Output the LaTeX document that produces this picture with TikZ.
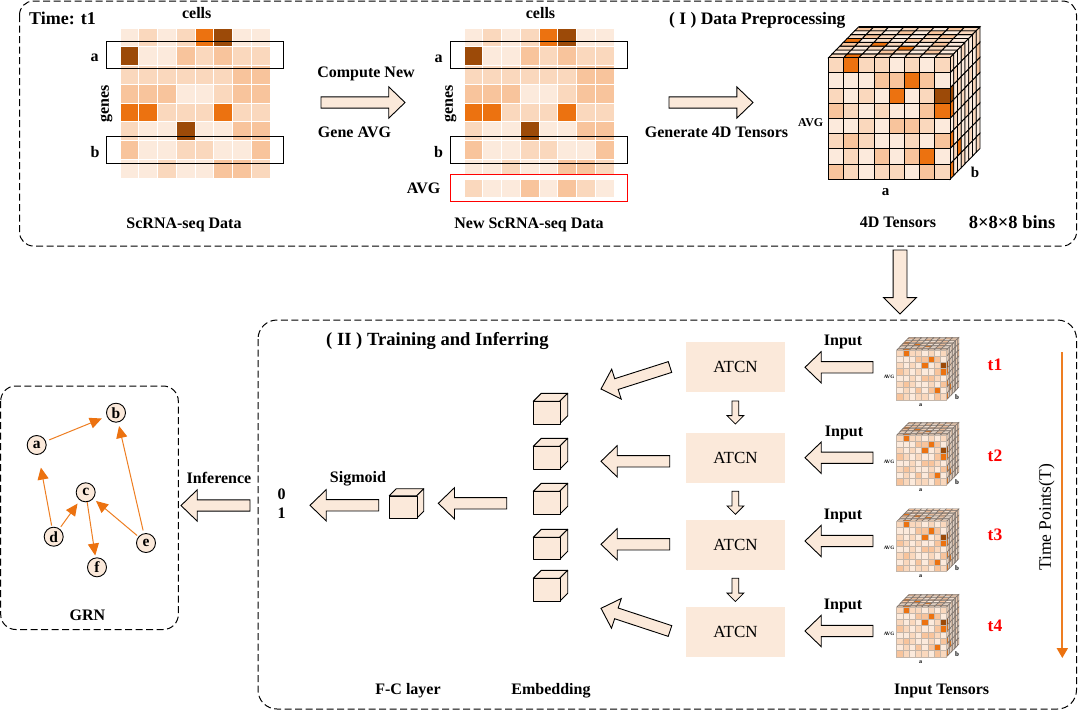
\documentclass[tikz,border=0pt]{standalone}
\usepackage{fontspec}
\setmainfont{Liberation Serif}
\usetikzlibrary{shapes.arrows,arrows.meta}
\definecolor{peach}{HTML}{FBE9DA}
\definecolor{hma}{HTML}{FCEADC}
\definecolor{hmb}{HTML}{FAD8BD}
\definecolor{hmc}{HTML}{F8C49C}
\definecolor{hmd}{HTML}{EC7210}
\definecolor{hme}{HTML}{9C4A08}
\definecolor{edgeorange}{HTML}{EE7E22}
\tikzset{
  lab/.style={inner sep=0pt,text height=10.5pt,text depth=0pt,font=\fontsize{16}{16}\selectfont\bfseries},
  labbig/.style={inner sep=0pt,text height=11.5pt,text depth=1.5pt,font=\fontsize{17.5}{17.5}\selectfont\bfseries},
  labreg/.style={inner sep=0pt,font=\fontsize{17.5}{17.5}\selectfont},
  labred/.style={inner sep=0pt,text=red,font=\fontsize{17.5}{17.5}\selectfont\bfseries},
  region/.style={draw=black,line width=1pt,dash pattern=on 7pt off 3.5pt},
  selbox/.style={draw=black,line width=1pt},
  atcn/.style={fill=peach,inner sep=0pt,minimum width=99.5pt,minimum height=50.6pt,font=\fontsize{17}{17}\selectfont},
  barrow/.style={draw=black,fill=peach,line width=0.9pt,shape=single arrow,inner sep=0pt,outer sep=0pt,
    single arrow head indent=0pt},
  bigarrow/.style={barrow,inner ysep=5.2pt,minimum width=31pt,single arrow head extend=10pt,single arrow tip angle=88},
  bigdown/.style={barrow,inner ysep=6.5pt,minimum width=32pt,single arrow head extend=9.5pt,single arrow tip angle=90},
  smalldown/.style={barrow,inner ysep=3pt,line width=0.8pt,minimum width=16pt,single arrow head extend=5pt,single arrow tip angle=90},
  grn/.style={circle,draw=black,line width=0.9pt,fill=peach,minimum size=19pt,inner sep=0pt,font=\fontsize{15.5}{15.5}\selectfont\bfseries},
  grnedge/.style={draw=edgeorange,line width=1pt,-{Triangle[length=12pt,width=11pt,color=hmd]}},
  emb/.style={draw=black,fill=peach,line width=0.9pt,line join=round},
  bigfront/.style={draw=black,line width=0.9pt},
  smallfront/.style={draw=black!22!peach,line width=0.5pt},
  smallside/.style={draw=black!50!peach,line width=0.55pt},
}
\newcommand\blockarrow[6]{%
  \pgfmathsetmacro\barlen{veclen(#4-#2,#5-#3)}%
  \pgfmathsetmacro\barang{atan2(#3-#5,#4-#2)}%
  \node[#6,minimum height=\barlen pt,rotate=\barang,anchor=tip] (#1) at (#4,#5) {};}
% heat map: x, y of the top-left corner
\newcommand\heatmap[2]{%
  \begin{scope}[shift={(#1,#2)}]
  \foreach \rowlist [count=\r from 0] in {{a,b,a,b,d,e,a,a},{e,a,a,c,b,c,b,b},{b,b,b,b,b,b,c,c},{c,c,c,a,a,b,c,c},{d,d,b,b,b,d,b,b},{b,a,a,e,a,a,c,c},{c,a,a,b,b,a,a,c},{a,a,b,a,a,c,c,b}}
    \foreach \v [count=\c from 0] in \rowlist
      \fill[hm\v,draw=white,line width=0.9pt] (\c*18.75,\r*18.75) rectangle ++(18.75,18.75);
  \end{scope}}
% 4D tensor cube: x, y of front top-left, scale, front line style, top/side line style, extras
\newcommand\tensorcube[6]{%
  \begin{scope}[shift={(#1,#2)},x=#3pt,y=-#3pt]
  \def\cu{15.19}\def\dx{3.75}\def\dy{3.85}
  \foreach \rowlist [count=\r from 0] in {{b,d,b,b,a,b,a,b},{a,a,a,c,b,a,c,a},{b,a,b,a,d,a,b,a},{c,b,d,b,a,a,c,a},{d,a,b,a,c,b,b,a},{b,c,b,a,a,b,c,a},{a,b,a,c,a,c,a,b},{c,b,a,b,b,a,c,b}}
    \foreach \v [count=\c from 0] in \rowlist
      \filldraw[fill=hm\v,#5] (\c*\cu+\r*\dx,-\r*\dy) -- ++(\cu,0) -- ++(\dx,-\dy) -- ++(-\cu,0) -- cycle;
  \foreach \rowlist [count=\r from 0] in {{b,a,a,b,a,a,b,b},{a,b,a,a,a,a,a,c},{e,a,b,a,a,b,a,c},{d,a,a,b,a,a,b,a},{a,b,a,a,b,a,a,b},{d,a,b,a,a,a,b,a},{a,b,d,a,a,b,a,a},{d,a,a,b,a,a,a,b}}
    \foreach \v [count=\c from 0] in \rowlist
      \filldraw[fill=hm\v,#5] (8*\cu+\c*\dx,\r*\cu-\c*\dy) -- ++(\dx,-\dy) -- ++(0,\cu) -- ++(-\dx,\dy) -- cycle;
  \foreach \rowlist [count=\r from 0] in {{b,d,b,b,a,b,a,b},{a,a,a,c,c,d,c,a},{b,a,b,a,d,a,b,e},{c,b,a,b,a,a,c,d},{a,a,b,a,c,c,b,a},{b,c,b,a,a,b,a,c},{a,b,a,c,a,c,d,a},{c,b,a,b,b,a,c,b}}
    \foreach \v [count=\c from 0] in \rowlist
      \filldraw[fill=hm\v,#4] (\c*\cu,\r*\cu) rectangle ++(\cu,\cu);
  #6
  \end{scope}}
\begin{document}
\begin{tikzpicture}[x=1pt,y=-1pt]
\useasboundingbox (0,0) rectangle (1078,710);
\fill[white] (0,0) rectangle (1078,710);

% regions
\draw[region,rounded corners=14pt] (19.5,1) rectangle (1076.5,246);
\draw[region,rounded corners=19pt] (258,320) rectangle (1076.5,709);
\draw[region,rounded corners=15pt] (0.7,386) rectangle (178.3,629.5);

% ---- part I
\node[labbig,anchor=west,font=\fontsize{18}{18}\selectfont\bfseries] (timelab) at (29,19) {Time: t1};
\node[labbig,anchor=west] (titleone) at (669,19) {( I ) Data Preprocessing};

\heatmap{120}{28}
\node[lab] (cellsa) at (196.7,13.5) {cells};
\node[lab] (laba) at (94.5,56.5) {a};
\node[lab] (labb) at (95,152) {b};
\node[lab,rotate=90] (genesa) at (103.5,104) {genes};
\node[selbox,inner sep=0pt,minimum width=177pt,minimum height=26.5pt] (boxa) at (195,55.2) {};
\node[selbox,inner sep=0pt,minimum width=177pt,minimum height=27pt] (boxb) at (195,150) {};
\node[lab] (dataa) at (184,223) {ScRNA-seq Data};

\heatmap{464}{28}
\fill[white] (460,174) rectangle (620,200);
\foreach \v [count=\c from 0] in {b,a,a,c,a,c,b,a}
  \fill[hm\v,draw=white,line width=0.9pt] (464+\c*18.75,179) rectangle ++(18.75,18.5);
\node[lab] (cellsb) at (540.5,13.5) {cells};
\node[lab] (labc) at (438.5,57) {a};
\node[lab] (labd) at (438.5,152) {b};
\node[lab] (labavg) at (423.5,188.5) {AVG};
\node[lab,rotate=90] (genesb) at (447.5,104) {genes};
\node[selbox,inner sep=0pt,minimum width=177pt,minimum height=26.5pt] (boxc) at (539,55.2) {};
\node[selbox,inner sep=0pt,minimum width=177pt,minimum height=27pt] (boxd) at (539,150) {};
\node[draw=red,line width=1pt,inner sep=0pt,minimum width=177pt,minimum height=27pt] (boxavg) at (539,188) {};
\node[lab] (datab) at (529,223) {New ScRNA-seq Data};

\blockarrow{arrcompute}{321}{102.5}{405}{102.5}{bigarrow}
\node[lab] (compute) at (366,72) {Compute New};
\node[lab] (gene) at (354.5,132) {Gene AVG};
\blockarrow{arrgen}{669}{102.5}{753}{102.5}{bigarrow}
\node[lab] (generate) at (716.5,132) {Generate 4D Tensors};

\tensorcube{828.5}{57.7}{1}{bigfront}{bigfront}{%
  \draw[line width=1.8pt] (30,-30.8) -- (151.5,-30.8);}
\node[inner sep=0pt,font=\fontsize{12}{12}\selectfont\bfseries] (avgbig) at (810.7,122.7) {AVG};
\node[inner sep=0pt,font=\fontsize{15}{15}\selectfont\bfseries] (cubea) at (885.5,192) {a};
\node[inner sep=0pt,font=\fontsize{15}{15}\selectfont\bfseries] (cubeb) at (975,172) {b};
\node[lab] (tensorlab) at (898,222.7) {4D Tensors};
\node[labbig,font=\fontsize{18.5}{18.5}\selectfont\bfseries] (bins) at (1012,223) {8×8×8 bins};

\blockarrow{arrdown}{900}{250}{900}{314}{bigdown}

% ---- part II
\node[labbig,anchor=west,font=\fontsize{18.6}{18.6}\selectfont\bfseries] (titletwo) at (326,340) {( II ) Training and Inferring};

\foreach \nm/\yy in {a/350,b/435,c/521.5,d/607}{
  \tensorcube{896.7}{\yy}{0.41}{smallfront}{smallside}{}
  \node[inner sep=0pt,font=\fontsize{5}{5}\selectfont\bfseries] (avg\nm) at (889,\yy+26.7) {AVG};
  \node[inner sep=0pt,font=\fontsize{6}{6}\selectfont\bfseries] (ca\nm) at (920.5,\yy+55) {a};
  \node[inner sep=0pt,font=\fontsize{7}{7}\selectfont\bfseries] (cb\nm) at (957,\yy+46.7) {b};
}

\node[labred] (tone) at (995,365) {t1};
\node[labred] (ttwo) at (995,456) {t2};
\node[labred] (tthree) at (995,535) {t3};
\node[labred] (tfour) at (995,626) {t4};

\node[atcn] (atcna) at (735.5,367) {ATCN};
\node[atcn] (atcnb) at (735.5,458) {ATCN};
\node[atcn] (atcnc) at (735.5,544.8) {ATCN};
\node[atcn] (atcnd) at (735.5,632) {ATCN};

\blockarrow{downa}{735.4}{401}{735.4}{424}{smalldown}
\blockarrow{downb}{735.4}{491.3}{735.4}{514.3}{smalldown}
\blockarrow{downc}{735.4}{578.3}{735.4}{601.5}{smalldown}

\blockarrow{ina}{873}{367.3}{805}{367.3}{bigarrow}
\blockarrow{inb}{873}{457.7}{805}{457.7}{bigarrow}
\blockarrow{inc}{873}{541}{805}{541}{bigarrow}
\blockarrow{ind}{873}{631}{805}{631}{bigarrow}
\node[lab] (inputa) at (843,340) {Input};
\node[lab] (inputb) at (844,431) {Input};
\node[lab] (inputc) at (843,514) {Input};
\node[lab] (inputd) at (843,604) {Input};

\blockarrow{outa}{670}{367}{601}{389}{bigarrow}
\blockarrow{outb}{669.7}{461.3}{601}{461.3}{bigarrow}
\blockarrow{outc}{669.7}{544.3}{601}{544.3}{bigarrow}
\blockarrow{outd}{670}{631}{601}{608.3}{bigarrow}

% embedding cubes
\foreach \nm/\yt/\hh in {a/401.3/22.4,b/446.3/23,c/491.3/23,d/537.3/22,e/578.3/23}{
  \draw[emb] (533.3,\yt) -- ++(8,-8) -- ++(26.4,0) -- ++(-8,8) -- cycle;
  \draw[emb] (559.7,\yt) -- ++(8,-8) -- ++(0,\hh) -- ++(-8,8) -- cycle;
  \node[emb,inner sep=0pt,anchor=north west,minimum width=26.4pt,minimum height=\hh pt] (emb\nm) at (533.3,\yt) {};
}
\draw[emb] (389.3,495.7) -- ++(7,-7) -- ++(27.4,0) -- ++(-7,7) -- cycle;
\draw[emb] (416.7,495.7) -- ++(7,-7) -- ++(0,22.6) -- ++(-7,7) -- cycle;
\node[emb,inner sep=0pt,anchor=north west,minimum width=27.4pt,minimum height=22.6pt] (fccube) at (389.3,495.7) {};

\blockarrow{arrfc}{506.7}{503.3}{438.3}{503.3}{bigarrow}
\blockarrow{arrsig}{378.7}{505.3}{310}{505.3}{bigarrow}
\node[lab] (sigmoid) at (358,477.7) {Sigmoid};
\node[lab] (zero) at (281.5,494.5) {0};
\node[lab] (one) at (281.5,513.5) {1};
\blockarrow{arrinf}{250}{505.5}{181}{505.5}{bigarrow}
\node[lab] (inference) at (219,478) {Inference};

\node[lab] (fclab) at (408,689) {F-C layer};
\node[lab] (emblab) at (551,689) {Embedding};
\node[lab] (inlab) at (941.7,689) {Input Tensors};

\coordinate (timestart) at (1062.3,352);
\coordinate (timeend) at (1062.3,658);
\draw[draw=edgeorange,line width=2pt,-{Triangle[length=10pt,width=11pt,color=hmd]}] (timestart) -- (timeend);
\node[labreg,rotate=90] (timelabel) at (1046.7,517.5) {Time Points(T)};

% GRN
\node[grn] (a) at (36.7,445) {a};
\node[grn] (b) at (116,412.7) {b};
\node[grn] (c) at (85.7,492.3) {c};
\node[grn] (d) at (53.7,536.7) {d};
\node[grn] (e) at (146,543) {e};
\node[grn] (f) at (97,567.3) {f};
\draw[grnedge,shorten <=3.5pt,shorten >=5.4pt] (a) -- (b);
\draw[grnedge,shorten <=3pt,shorten >=3.7pt] (e) -- (b);
\draw[grnedge,shorten <=1.3pt,shorten >=13pt] (d) -- (a);
\draw[grnedge,shorten <=2.3pt,shorten >=4pt] (d) -- (c);
\draw[grnedge,shorten <=0pt,shorten >=2pt] (c) -- (f);
\draw[grnedge,shorten <=1.7pt,shorten >=3.5pt] (e) -- (c);
\node[lab] (grnlab) at (87.5,615.7) {GRN};
\end{tikzpicture}
\end{document}
